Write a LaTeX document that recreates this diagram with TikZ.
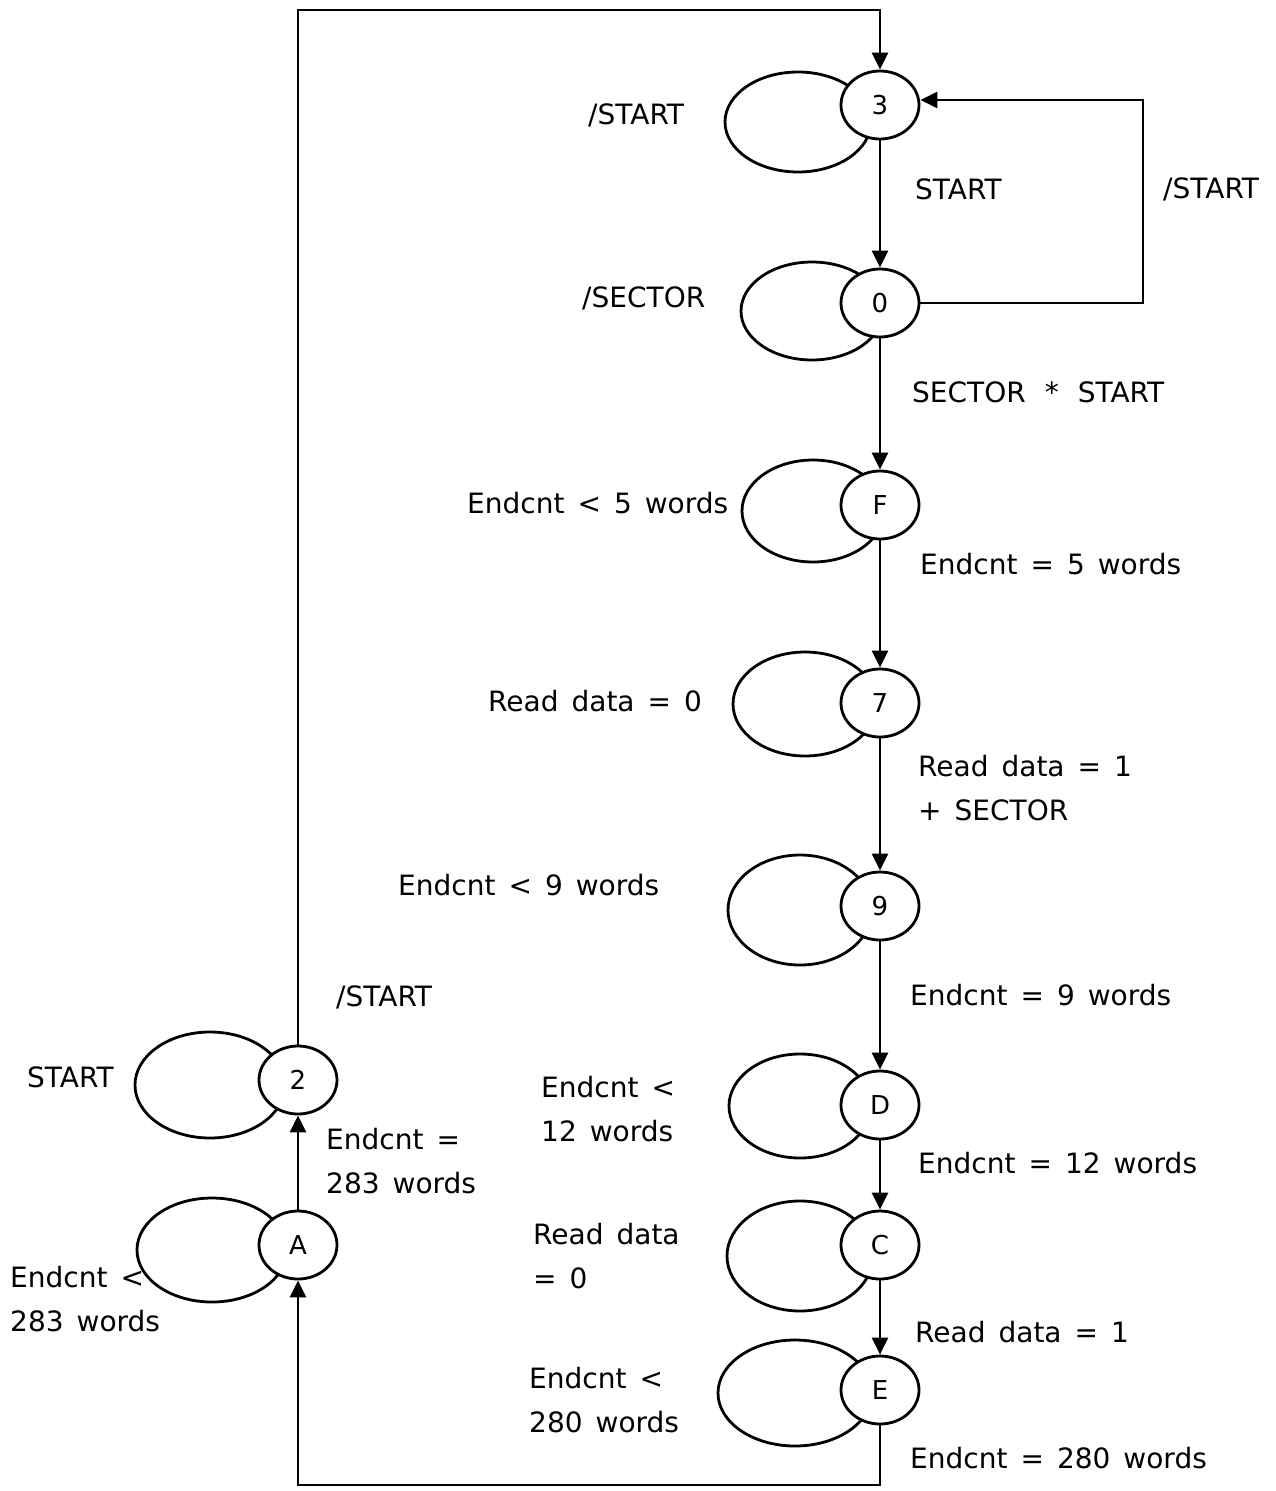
\documentclass[tikz,border=0pt]{standalone}
\usepackage{fontspec}
\setmainfont{DejaVu Sans}
\usetikzlibrary{arrows.meta,shapes.geometric}
\newcommand\lblfont{\fontsize{28}{44}\selectfont\spaceskip=13pt\relax}
\begin{document}
\begin{tikzpicture}[x=1pt,y=-1pt,
  st/.style={ellipse,draw,fill=white,line width=2.8pt,minimum width=78pt,minimum height=68pt,inner sep=0pt,font=\fontsize{26}{30}\selectfont},
  lbl/.style={anchor=west,align=left,inner sep=0pt,font=\lblfont},
  loope/.style={draw,line width=2.8pt},
  tri/.style={line width=2.6pt,-{Triangle[width=16pt,length=17pt]}}]
\useasboundingbox (0,0) rectangle (1275,1491);
% self loops
\draw[loope] (798,122) ellipse [x radius=73pt, y radius=50pt];
\draw[loope] (812,311) ellipse [x radius=71pt, y radius=49pt];
\draw[loope] (813,511) ellipse [x radius=71pt, y radius=51pt];
\draw[loope] (805,704) ellipse [x radius=72pt, y radius=52pt];
\draw[loope] (800,910) ellipse [x radius=72pt, y radius=55pt];
\draw[loope] (800,1106) ellipse [x radius=71pt, y radius=52pt];
\draw[loope] (800,1256) ellipse [x radius=73pt, y radius=55pt];
\draw[loope] (795,1393) ellipse [x radius=77pt, y radius=53pt];
\draw[loope] (210,1085) ellipse [x radius=75pt, y radius=53pt];
\draw[loope] (212,1250) ellipse [x radius=75pt, y radius=52pt];
% states
\node[st] (n3) at (880,105) {3};
\node[st] (n0) at (880,303) {0};
\node[st] (nF) at (880,505) {F};
\node[st] (n7) at (880,703) {7};
\node[st] (n9) at (880,906) {9};
\node[st] (nD) at (880,1105) {D};
\node[st] (nC) at (880,1245) {C};
\node[st] (nE) at (880,1390) {E};
\node[st] (n2) at (298,1080) {2};
\node[st] (nA) at (298,1245) {A};
% corner points
\coordinate (cTL) at (298,10);
\coordinate (cTR) at (880,10);
\coordinate (cR1) at (1143,303);
\coordinate (cR2) at (1143,100);
\coordinate (cB1) at (880,1485);
\coordinate (cB2) at (298,1485);
% connectors
\draw[tri] (n2.north) -- (cTL) -- (cTR) -- (n3.north);
\draw[tri] (n0.east) -- (cR1) -- (cR2) -- (n3.east |- cR2);
\draw[tri] (n3) -- (n0);
\draw[tri] (n0) -- (nF);
\draw[tri] (nF) -- (n7);
\draw[tri] (n7) -- (n9);
\draw[tri] (n9) -- (nD);
\draw[tri] (nD) -- (nC);
\draw[tri] (nC) -- (nE);
\draw[tri] (nE.south) -- (cB1) -- (cB2) -- (nA.south);
\draw[tri] (nA) -- (n2);
% labels
\node[lbl] (l1) at (588,115) {/START};
\node[lbl] (l2) at (915,189) {START};
\node[lbl] (l3) at (1163,189) {/START};
\node[lbl] (l4) at (582,298) {/SECTOR};
\node[lbl] (l5) at (912,392) {SECTOR\hspace{6pt} *\hspace{6pt} START};
\node[lbl] (l6) at (467,503) {Endcnt < 5 words};
\node[lbl] (l7) at (920,564) {Endcnt = 5 words};
\node[lbl] (l8) at (488,701) {Read data = 0};
\node[lbl] (l9) at (918,788) {Read data = 1\\+ SECTOR};
\node[lbl] (l10) at (398,885) {Endcnt < 9 words};
\node[lbl] (l11) at (336,997) {/START};
\node[lbl] (l12) at (910,995) {Endcnt = 9 words};
\node[lbl] (l13) at (27,1077) {START};
\node[lbl] (l14) at (541,1109) {Endcnt <\\12 words};
\node[lbl] (l15) at (326,1161) {Endcnt =\\283 words};
\node[lbl] (l16) at (918,1163) {Endcnt = 12 words};
\node[lbl] (l17) at (533,1256) {Read data\\= 0};
\node[lbl] (l18) at (10,1299) {Endcnt <\\283 words};
\node[lbl] (l19) at (915,1332) {Read data = 1};
\node[lbl] (l20) at (529,1400) {Endcnt <\\280 words};
\node[lbl] (l21) at (910,1458) {Endcnt = 280 words};
\end{tikzpicture}
\end{document}
